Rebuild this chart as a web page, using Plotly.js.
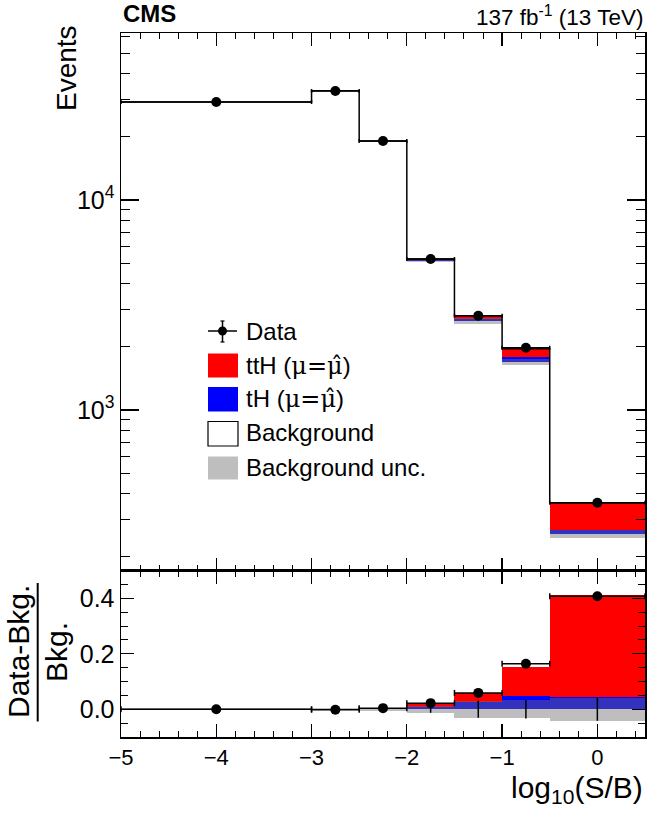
<!DOCTYPE html>
<html>
<head>
<meta charset="utf-8">
<script src="https://cdn.plot.ly/plotly-3.0.1.min.js"></script>
<style>html,body{margin:0;padding:0;background:#fff;}#chart{width:648px;height:818px;}</style>
</head>
<body>
<div id="chart"></div>
<script>
// ---- data ----
const binEdges   = [-5, -3, -2.5, -2, -1.5, -1, -0.5, 0.5];
const binCenters = [-4, -2.75, -2.25, -1.75, -1.25, -0.75, 0];
const dataEvents = [29300, 33000, 19100, 5240, 2810, 1980, 362];
const bkgEvents  = [29300, 33060, 19020, 5130, 2650, 1700, 257];
const tHEvents   = [5, 15, 57, 33, 66, 83, 12];
const ttHEvents  = [10, 20, 38, 80, 96, 176, 93];
const bkgUncRel  = [0.004, 0.004, 0.006, 0.013, 0.031, 0.033, 0.041];
// ratio panel: (Data-Bkg)/Bkg
const ratioData   = [0.0, -0.002, 0.004, 0.022, 0.059, 0.164, 0.407];
const ratioSignal = [0.0005, 0.001, 0.005, 0.023, 0.059, 0.151, 0.413];
const ratioTH     = [0.0002, 0.0005, 0.003, 0.0065, 0.0245, 0.0486, 0.045];
const xTickVals   = [-5, -4, -3, -2, -1, 0];
const xTickText   = ['\u22125', '\u22124', '\u22123', '\u22122', '\u22121', '0'];
const yTopTickVals = [1000, 10000];
const yTopTickText = ['10<sup>3</sup>', '10<sup>4</sup>'];
const yTopMinor = [200,300,400,500,600,700,800,900,2000,3000,4000,5000,6000,7000,8000,9000,20000,30000,40000,50000,60000];
const yRatioTickVals = [0, 0.2, 0.4];
const yRatioTickText = ['0.0', '0.2', '0.4'];

// ---- derived helpers ----
const widths = binEdges.slice(1).map((e, i) => e - binEdges[i]);
const halfW = widths.map(w => w / 2);
const ttHBase = bkgEvents.map((b, i) => b + tHEvents[i]);
const totalEvents = ttHBase.map((b, i) => b + ttHEvents[i]);
const stepY = totalEvents.concat([totalEvents[totalEvents.length - 1]]);
const uncBase = bkgEvents.map((b, i) => b * (1 - bkgUncRel[i]));
const uncH = bkgEvents.map((b, i) => 2 * b * bkgUncRel[i]);
const ratioUncBase = bkgUncRel.map(u => -u);
const ratioUncH = bkgUncRel.map(u => 2 * u);
const zeros = binCenters.map(() => 0);

const RED = '#ff0000', BLUE = '#0000ff', UNC = 'rgba(110,110,110,0.45)';
const FONT = 'Liberation Sans, Arial, Helvetica, sans-serif';
const MU = '<span style="font-family:\'DejaVu Serif\'">\u03bc=\u03bc\u0302</span>';

const traces = [
  // top panel
  {type:'bar', x:binCenters, y:tHEvents, base:bkgEvents, width:widths, marker:{color:BLUE, line:{width:0}}, xaxis:'x', yaxis:'y', hoverinfo:'skip', showlegend:false},
  {type:'bar', x:binCenters, y:ttHEvents, base:ttHBase, width:widths, marker:{color:RED, line:{width:0}}, xaxis:'x', yaxis:'y', hoverinfo:'skip', showlegend:false},
  {type:'bar', x:binCenters, y:uncH, base:uncBase, width:widths, marker:{color:UNC, line:{width:0}}, xaxis:'x', yaxis:'y', hoverinfo:'skip', showlegend:false},
  {type:'scatter', mode:'lines', x:binEdges, y:stepY, line:{shape:'hv', color:'#000', width:1.5}, xaxis:'x', yaxis:'y', hoverinfo:'skip', showlegend:false},
  {type:'scatter', mode:'markers', x:binCenters, y:dataEvents, marker:{color:'#000', size:10},
   error_x:{type:'data', array:halfW, visible:true, color:'#000', thickness:1.5, width:2},
   xaxis:'x', yaxis:'y', showlegend:false},
  // ratio panel
  {type:'bar', x:binCenters, y:ratioSignal, base:zeros, width:widths, marker:{color:RED, line:{width:0}}, xaxis:'x2', yaxis:'y2', hoverinfo:'skip', showlegend:false},
  {type:'bar', x:binCenters, y:ratioTH, base:zeros, width:widths, marker:{color:BLUE, line:{width:0}}, xaxis:'x2', yaxis:'y2', hoverinfo:'skip', showlegend:false},
  {type:'bar', x:binCenters, y:ratioUncH, base:ratioUncBase, width:widths, marker:{color:UNC, line:{width:0}}, xaxis:'x2', yaxis:'y2', hoverinfo:'skip', showlegend:false},
  {type:'scatter', mode:'markers', x:binCenters, y:zeros, marker:{size:1, opacity:0},
   error_y:{type:'data', array:bkgUncRel, visible:true, color:'#000', thickness:1.5, width:0},
   xaxis:'x2', yaxis:'y2', hoverinfo:'skip', showlegend:false},
  {type:'scatter', mode:'markers', x:binCenters, y:ratioData, marker:{color:'#000', size:10},
   error_x:{type:'data', array:halfW, visible:true, color:'#000', thickness:1.5, width:3},
   xaxis:'x2', yaxis:'y2', showlegend:false}
];

// layout geometry (pixels -> paper)
const L = 121, R = 645, T = 33, B = 737;
const px = v => (v - L) / (R - L);
const py = v => (B - v) / (B - T);
const split = py(570.5);

const axCommon = {showline:true, linecolor:'#000', linewidth:1.5, mirror:'ticks', ticks:'inside',
  tickcolor:'#000', tickwidth:1.2, showgrid:false, zeroline:false, tickfont:{family:FONT, size:22, color:'#000'}};

const legendText = (y, t) => ({xref:'paper', yref:'paper', x:px(244), y:py(y), xanchor:'left', yanchor:'middle',
  showarrow:false, text:t, font:{family:FONT, size:24, color:'#000'}});

const layout = {
  width:648, height:818,
  margin:{l:L, r:648 - R, t:T, b:818 - B},
  paper_bgcolor:'#fff', plot_bgcolor:'#fff',
  barmode:'overlay', bargap:0,
  showlegend:false,
  font:{family:FONT, color:'#000'},
  xaxis: Object.assign({}, axCommon, {domain:[0,1], anchor:'y', range:[-5,0.5], tickmode:'array', tickvals:xTickVals,
    showticklabels:false, ticklen:13, minor:{dtick:0.2, tick0:0, ticks:'inside', ticklen:6, tickcolor:'#000', tickwidth:1}}),
  yaxis: Object.assign({}, axCommon, {domain:[split,1], anchor:'x', type:'log', range:[2.236, 4.795],
    tickmode:'array', tickvals:yTopTickVals, ticktext:yTopTickText, ticklen:18, tickfont:{family:FONT, size:25, color:'#000'},
    minor:{tickmode:'array', tickvals:yTopMinor, ticks:'inside', ticklen:9, tickcolor:'#000', tickwidth:1}}),
  xaxis2: Object.assign({}, axCommon, {domain:[0,1], anchor:'y2', range:[-5,0.5], tickmode:'array', tickvals:xTickVals,
    ticktext:xTickText, ticklen:13, minor:{dtick:0.2, tick0:0, ticks:'inside', ticklen:6, tickcolor:'#000', tickwidth:1}}),
  yaxis2: Object.assign({}, axCommon, {domain:[0,split], anchor:'x2', range:[-0.1,0.5],
    tickmode:'array', tickvals:yRatioTickVals, ticktext:yRatioTickText, ticklen:13, tickfont:{family:FONT, size:25, color:'#000'},
    minor:{dtick:0.05, tick0:0, ticks:'inside', ticklen:7, tickcolor:'#000', tickwidth:1}}),
  annotations:[
    {xref:'paper', yref:'paper', x:px(121), y:py(14), xanchor:'left', yanchor:'middle', showarrow:false,
     text:'<b>CMS</b>', font:{family:FONT, size:24, color:'#000'}},
    {xref:'paper', yref:'paper', x:px(645), y:py(16), xanchor:'right', yanchor:'middle', showarrow:false,
     text:'137 fb<sup>-1</sup> (13 TeV)', font:{family:FONT, size:22.5, color:'#000'}},
    {xref:'paper', yref:'paper', x:px(67), y:py(68), xanchor:'center', yanchor:'middle', showarrow:false, textangle:-90,
     text:'Events', font:{family:FONT, size:28, color:'#000'}},
    {xref:'paper', yref:'paper', x:px(18), y:py(652), xanchor:'center', yanchor:'middle', showarrow:false, textangle:-90,
     text:'Data-Bkg.', font:{family:FONT, size:30, color:'#000'}},
    {xref:'paper', yref:'paper', x:px(56), y:py(652), xanchor:'center', yanchor:'middle', showarrow:false, textangle:-90,
     text:'Bkg.', font:{family:FONT, size:30, color:'#000'}},
    {xref:'paper', yref:'paper', x:px(645), y:py(789), xanchor:'right', yanchor:'middle', showarrow:false,
     text:'log<sub>10</sub>(S/B)', font:{family:FONT, size:30, color:'#000'}},
    legendText(331, 'Data'),
    legendText(365.5, 'ttH (' + MU + ')'),
    legendText(399, 'tH (' + MU + ')'),
    legendText(433, 'Background'),
    legendText(467, 'Background unc.')
  ],
  shapes:[
    // fraction bar of ratio title
    {type:'line', xref:'paper', yref:'paper', x0:px(37.7), x1:px(37.7), y0:py(583), y1:py(721.5), line:{color:'#000', width:2}},
    // legend symbols
    {type:'line', xref:'paper', yref:'paper', x0:px(208), x1:px(237), y0:py(331), y1:py(331), line:{color:'#000', width:1.5}},
    {type:'line', xref:'paper', yref:'paper', x0:px(222.5), x1:px(222.5), y0:py(321), y1:py(342), line:{color:'#000', width:1.5}},
    {type:'line', xref:'paper', yref:'paper', x0:px(220.5), x1:px(224.5), y0:py(321), y1:py(321), line:{color:'#000', width:1.2}},
    {type:'line', xref:'paper', yref:'paper', x0:px(220.5), x1:px(224.5), y0:py(342), y1:py(342), line:{color:'#000', width:1.2}},
    {type:'circle', xref:'paper', yref:'paper', x0:px(218), x1:px(227), y0:py(326.5), y1:py(335.5), fillcolor:'#000', line:{color:'#000', width:0}},
    {type:'rect', xref:'paper', yref:'paper', x0:px(208), x1:px(238), y0:py(353.5), y1:py(377.5), fillcolor:RED, line:{width:0}},
    {type:'rect', xref:'paper', yref:'paper', x0:px(208), x1:px(238), y0:py(387), y1:py(411.5), fillcolor:BLUE, line:{width:0}},
    {type:'rect', xref:'paper', yref:'paper', x0:px(208), x1:px(238), y0:py(421.5), y1:py(446), fillcolor:'#fff', line:{color:'#000', width:1.2}},
    {type:'rect', xref:'paper', yref:'paper', x0:px(208), x1:px(238), y0:py(456.5), y1:py(479.5), fillcolor:'#bebebe', line:{width:0}}
  ]
};

Plotly.newPlot('chart', traces, layout, {staticPlot:true, displayModeBar:false});
</script>
</body>
</html>
